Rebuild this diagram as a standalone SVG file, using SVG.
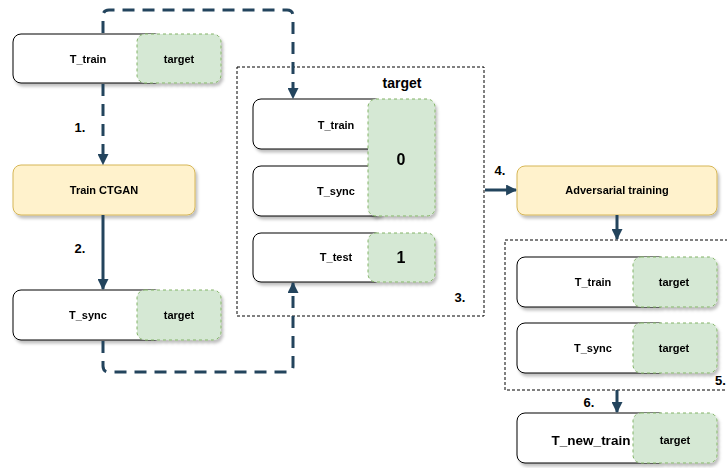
<svg xmlns="http://www.w3.org/2000/svg" width="727" height="468" viewBox="0 0 727 468">
<defs>
<filter id="sh" x="-10%" y="-20%" width="130%" height="160%"><feDropShadow dx="2" dy="3" stdDeviation="1.5" flood-color="#000" flood-opacity="0.25"/></filter>
<marker id="ah" viewBox="0 0 10 10" refX="9" refY="5" markerWidth="11" markerHeight="11" markerUnits="userSpaceOnUse" orient="auto"><path d="M0,0 L10,5 L0,10 z" fill="#23445d"/></marker>
<style>
.box{fill:#fff;stroke:#000;stroke-width:1}
.grn{fill:#d5e8d4;stroke:#82b366;stroke-width:1;stroke-dasharray:3 3}
.yel{fill:#fff2cc;stroke:#d6b656;stroke-width:1}
.grp{fill:none;stroke:#000;stroke-width:1;stroke-dasharray:3 2}
.t{font-family:"Liberation Sans",Arial,sans-serif;font-weight:bold;font-size:11px;fill:#000;text-anchor:middle;dominant-baseline:central}
.lb{font-family:"Liberation Sans",Arial,sans-serif;font-weight:bold;font-size:13px;fill:#000;text-anchor:middle;dominant-baseline:central}
.big{font-family:"Liberation Sans",Arial,sans-serif;font-weight:bold;font-size:16px;fill:#000;text-anchor:middle;dominant-baseline:central}
.c{fill:none;stroke:#23445d;stroke-width:3}
.d{stroke-dasharray:12 8}
</style>
</defs>

<g id="group3"><rect class="grp" x="237" y="67" width="247" height="249"/><text class="lb" x="402" y="83" style="font-size:14px">target</text><text class="lb" x="460" y="297">3.</text></g>
<g id="group5"><rect class="grp" x="505" y="240" width="230" height="150"/><text class="lb" x="715" y="380" style="text-anchor:start">5.</text></g>

<g id="n_ttrain" filter="url(#sh)"><rect class="box" x="13" y="34" width="150" height="49" rx="8"/><rect class="grn" x="137" y="34" width="84" height="49" rx="8"/><text class="t" x="88" y="59">T_train</text><text class="t" x="179" y="59">target</text></g>
<g id="n_ctgan" filter="url(#sh)"><rect class="yel" x="13" y="165" width="182" height="50" rx="8"/><text class="t" x="104" y="190">Train CTGAN</text></g>
<g id="n_tsync" filter="url(#sh)"><rect class="box" x="13" y="290" width="150" height="50" rx="8"/><rect class="grn" x="137" y="290" width="84" height="50" rx="8"/><text class="t" x="88" y="315">T_sync</text><text class="t" x="179" y="315">target</text></g>

<g id="n_in_train" filter="url(#sh)"><rect class="box" x="253" y="99" width="130" height="50" rx="8"/><text class="t" x="336" y="125">T_train</text></g>
<g id="n_in_sync" filter="url(#sh)"><rect class="box" x="253" y="166" width="130" height="50" rx="8"/><text class="t" x="336" y="191">T_sync</text></g>
<g id="n_in_zero" filter="url(#sh)"><rect class="grn" x="368" y="99" width="67" height="117" rx="8"/><text class="big" x="401" y="159">0</text></g>
<g id="n_in_test" filter="url(#sh)"><rect class="box" x="253" y="233" width="130" height="49" rx="8"/><rect class="grn" x="368" y="233" width="67" height="49" rx="8"/><text class="t" x="336" y="257">T_test</text><text class="big" x="401" y="257">1</text></g>

<g id="n_adv" filter="url(#sh)"><rect class="yel" x="517" y="166" width="200" height="49" rx="8"/><text class="t" x="617" y="190">Adversarial training</text></g>
<g id="n_r_train" filter="url(#sh)"><rect class="box" x="517" y="257" width="150" height="50" rx="8"/><rect class="grn" x="633" y="257" width="84" height="50" rx="8"/><text class="t" x="593" y="282">T_train</text><text class="t" x="674" y="282">target</text></g>
<g id="n_r_sync" filter="url(#sh)"><rect class="box" x="517" y="323" width="150" height="50" rx="8"/><rect class="grn" x="633" y="323" width="84" height="50" rx="8"/><text class="t" x="593" y="348">T_sync</text><text class="t" x="674" y="348">target</text></g>
<g id="n_newtrain" filter="url(#sh)"><rect class="box" x="517" y="413" width="150" height="50" rx="8"/><rect class="grn" x="633" y="413" width="84" height="50" rx="8"/><text class="t" x="591" y="440" style="font-size:13.5px">T_new_train</text><text class="t" x="675" y="440">target</text></g>

<g id="connectors">
<path class="c d" d="M103,33 V16 Q103,10 109,10 H287 Q293,10 293,16 V98" marker-end="url(#ah)"/>
<path class="c d" d="M103,84 V164" marker-end="url(#ah)"/>
<path class="c" d="M103,215 V289" marker-end="url(#ah)"/>
<path class="c d" d="M103,341 V366 Q103,372 109,372 H287 Q293,372 293,366 V283" marker-end="url(#ah)"/>
<path class="c" d="M485,190 H516" marker-end="url(#ah)"/>
<path class="c" d="M617,215 V239" marker-end="url(#ah)"/>
<path class="c" d="M617,390 V412" marker-end="url(#ah)"/>
<text class="lb" x="80" y="127">1.</text>
<text class="lb" x="80" y="248">2.</text>
<text class="lb" x="500" y="170">4.</text>
<text class="lb" x="589" y="402">6.</text>
</g>
</svg>
